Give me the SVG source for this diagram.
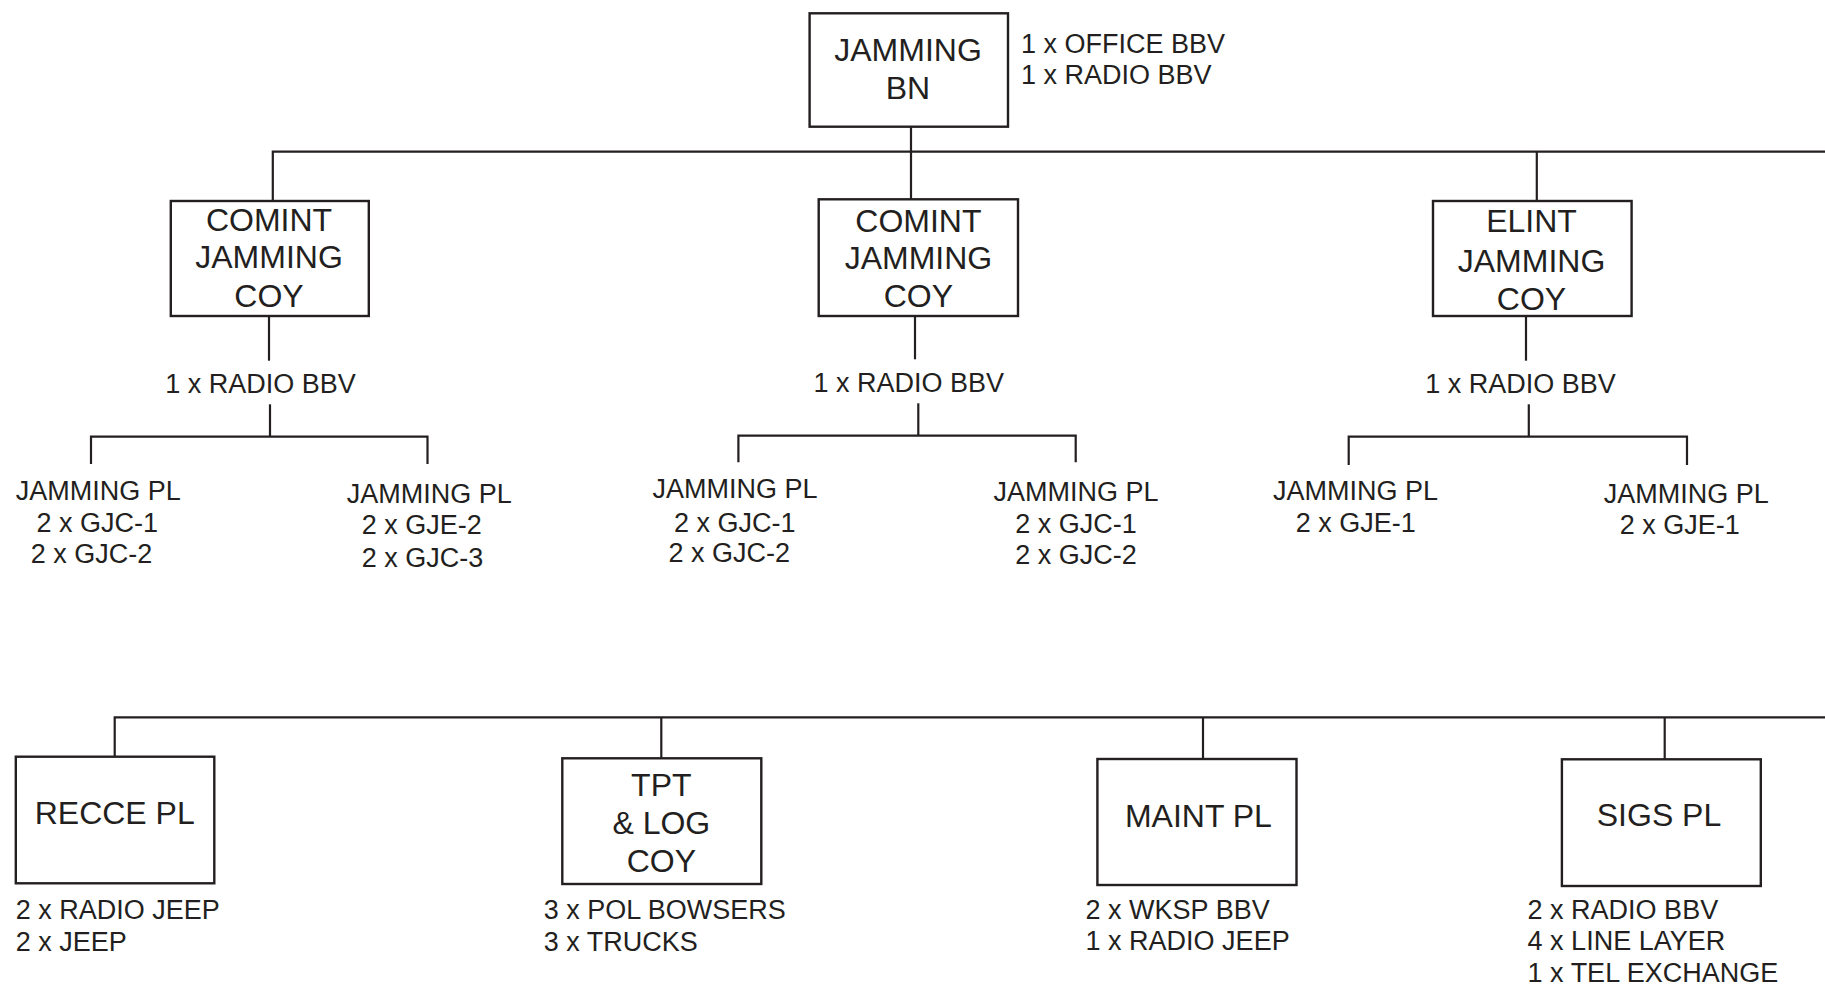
<svg xmlns="http://www.w3.org/2000/svg" width="1825" height="986" viewBox="0 0 1825 986">
<style>
.bg{fill:#ffffff}
.box{fill:#ffffff;stroke:#231f20;stroke-width:2.4}
.ln{fill:none;stroke:#231f20;stroke-width:2.2}
.big{font-family:"Liberation Sans",Arial,sans-serif;font-size:32px;fill:#231f20;text-anchor:middle}
.sm{font-family:"Liberation Sans",Arial,sans-serif;font-size:27px;fill:#231f20}
</style>
<rect class="bg" x="0" y="0" width="1825" height="986"/>
<g id="connectors">
<path class="ln" d="M272.8 201 V151.7 H1825"/>
<path class="ln" d="M911 126.7 V199.3"/>
<path class="ln" d="M1536.8 151.7 V201"/>
<path class="ln" d="M269 316 V360.7"/>
<path class="ln" d="M270 404.3 V436.7"/>
<path class="ln" d="M91 464 V436.7 H427.5 V464"/>
<path class="ln" d="M915 316 V359.3"/>
<path class="ln" d="M918.3 403.3 V435.7"/>
<path class="ln" d="M738.4 462.3 V435.7 H1075.7 V462.3"/>
<path class="ln" d="M1526 316 V360.7"/>
<path class="ln" d="M1528.8 404.3 V436.7"/>
<path class="ln" d="M1348.7 465 V436.7 H1687 V465"/>
<path class="ln" d="M114.7 756.7 V717.3 H1825"/>
<path class="ln" d="M661.3 717.3 V758.3"/>
<path class="ln" d="M1203 717.3 V759"/>
<path class="ln" d="M1664.7 717.3 V759.3"/>
</g>
<g id="jamming-bn">
<rect class="box" x="809.6" y="13.3" width="198.4" height="113.4"/>
<text class="big" x="908" y="61">JAMMING</text>
<text class="big" x="908" y="99.3">BN</text>
<text class="sm" x="1021" y="52.7">1 x OFFICE BBV</text>
<text class="sm" x="1021" y="83.8">1 x RADIO BBV</text>
</g>
<g id="comint-coy-1">
<rect class="box" x="170.8" y="201" width="198" height="115"/>
<text class="big" x="269" y="230.7">COMINT</text>
<text class="big" x="269" y="268.3">JAMMING</text>
<text class="big" x="269" y="306.7">COY</text>
<text class="sm" x="165.3" y="393.3">1 x RADIO BBV</text>
</g>
<g id="comint-coy-1-pl-1">
<text class="sm" x="15.8" y="500">JAMMING PL</text>
<text class="sm" x="36.4" y="532.3">2 x GJC-1</text>
<text class="sm" x="30.8" y="563.3">2 x GJC-2</text>
</g>
<g id="comint-coy-1-pl-2">
<text class="sm" x="346.8" y="503.3">JAMMING PL</text>
<text class="sm" x="361.8" y="534.3">2 x GJE-2</text>
<text class="sm" x="361.8" y="566.7">2 x GJC-3</text>
</g>
<g id="comint-coy-2">
<rect class="box" x="818.7" y="199.3" width="199.3" height="116.7"/>
<text class="big" x="918.4" y="231.7">COMINT</text>
<text class="big" x="918.4" y="269.3">JAMMING</text>
<text class="big" x="918.4" y="306.7">COY</text>
<text class="sm" x="813.5" y="392.3">1 x RADIO BBV</text>
</g>
<g id="comint-coy-2-pl-1">
<text class="sm" x="652.6" y="498.3">JAMMING PL</text>
<text class="sm" x="674" y="531.7">2 x GJC-1</text>
<text class="sm" x="668.4" y="562.3">2 x GJC-2</text>
</g>
<g id="comint-coy-2-pl-2">
<text class="sm" x="993.4" y="501">JAMMING PL</text>
<text class="sm" x="1015.2" y="533.3">2 x GJC-1</text>
<text class="sm" x="1015.2" y="564.3">2 x GJC-2</text>
</g>
<g id="elint-coy">
<rect class="box" x="1433" y="201" width="198.6" height="115"/>
<text class="big" x="1531.5" y="232.3">ELINT</text>
<text class="big" x="1531.5" y="271.7">JAMMING</text>
<text class="big" x="1531.5" y="310">COY</text>
<text class="sm" x="1425.2" y="393.3">1 x RADIO BBV</text>
</g>
<g id="elint-coy-pl-1">
<text class="sm" x="1273" y="500">JAMMING PL</text>
<text class="sm" x="1295.7" y="531.7">2 x GJE-1</text>
</g>
<g id="elint-coy-pl-2">
<text class="sm" x="1603.7" y="502.7">JAMMING PL</text>
<text class="sm" x="1619.7" y="534.3">2 x GJE-1</text>
</g>
<g id="recce-pl">
<rect class="box" x="15.8" y="756.7" width="198.5" height="126.6"/>
<text class="big" x="114.7" y="824.3">RECCE PL</text>
<text class="sm" x="15.8" y="919.3">2 x RADIO JEEP</text>
<text class="sm" x="15.8" y="950.7">2 x JEEP</text>
</g>
<g id="tpt-log-coy">
<rect class="box" x="562.3" y="758.3" width="199" height="125.7"/>
<text class="big" x="661.3" y="796">TPT</text>
<text class="big" x="661.3" y="834">&amp; LOG</text>
<text class="big" x="661.3" y="871.7">COY</text>
<text class="sm" x="543.7" y="919.3">3 x POL BOWSERS</text>
<text class="sm" x="543.7" y="950.7">3 x TRUCKS</text>
</g>
<g id="maint-pl">
<rect class="box" x="1097.4" y="759" width="199.1" height="126"/>
<text class="big" x="1198.4" y="827.3">MAINT PL</text>
<text class="sm" x="1085.6" y="919.3">2 x WKSP BBV</text>
<text class="sm" x="1085.6" y="950">1 x RADIO JEEP</text>
</g>
<g id="sigs-pl">
<rect class="box" x="1561.9" y="759.3" width="198.9" height="126.7"/>
<text class="big" x="1659" y="826">SIGS PL</text>
<text class="sm" x="1527.6" y="919.3">2 x RADIO BBV</text>
<text class="sm" x="1527.6" y="950">4 x LINE LAYER</text>
<text class="sm" x="1527.6" y="981.7">1 x TEL EXCHANGE</text>
</g>
</svg>
